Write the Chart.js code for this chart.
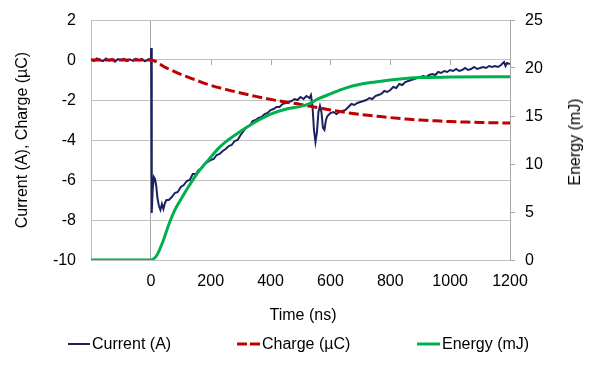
<!DOCTYPE html>
<html>
<head>
<meta charset="utf-8">
<script src="https://cdn.jsdelivr.net/npm/chart.js@4"></script>
<style>
  body { margin: 0; background: #fff; }
  #wrap { position: relative; width: 600px; height: 365px; font-family: 'Liberation Sans', Arial, sans-serif; font-size: 16px; color: #000; }
  canvas { position: absolute; left: 0; top: 0; }
  .lbl { position: absolute; white-space: nowrap; line-height: 18px; }
  .leg { position: absolute; top: 335px; height: 18px; line-height: 18px; display: flex; align-items: center; white-space: nowrap; }
  .leg svg { display: block; margin-right: 2px; }
</style>
</head>
<body>
<div id="wrap">
  <canvas id="chart" width="600" height="365"></canvas>
  <div class="lbl" style="left:303px; top:315px; transform:translate(-50%,-50%)">Time (ns)</div>
  <div class="lbl" style="left:575px; top:142px; transform:translate(-50%,-50%) rotate(-90deg)">Energy (mJ)</div>
  <div class="leg" style="left:68px">
    <svg width="22" height="18"><line x1="0" y1="9" x2="22" y2="9" stroke="#1a2260" stroke-width="2"/></svg>Current (A)
  </div>
  <div class="leg" style="left:237px">
    <svg width="23" height="18"><line x1="0" y1="9" x2="23" y2="9" stroke="#c00000" stroke-width="3" stroke-dasharray="10,3"/></svg>Charge (µC)
  </div>
  <div class="leg" style="left:417px">
    <svg width="23" height="18"><line x1="0" y1="9" x2="23" y2="9" stroke="#00b050" stroke-width="3"/></svg>Energy (mJ)
  </div>
</div>
<script>
// time (ns) and current (A)
const currentT = [
  -200,-190,-180,-170,-160,-150,-140,-130,-120,-110,-100,-90,-80,-70,-60,-50,-40,-30,-20,-10,
  0,1,3,6,10,14,18,22,27,32,37,42,47,52,
  60,70,80,90,100,110,120,130,140,150,160,170,180,190,200,210,220,230,240,250,
  260,270,280,290,300,310,320,330,340,350,360,370,380,390,400,410,420,430,440,450,
  460,470,480,490,500,510,520,530,535,
  540,545,550,555,560,565,570,575,580,585,590,600,610,620,630,640,650,660,670,680,
  690,700,710,720,730,740,750,760,770,780,790,800,810,820,830,840,850,860,870,880,
  890,900,910,920,930,940,950,960,970,980,990,1000,1010,1020,1030,1040,1050,1060,1070,1080,
  1090,1100,1110,1120,1130,1140,1150,1160,1170,1180,1185,1190,1200
];
const currentA = [
  0.05,-0.05,0.08,0.0,-0.06,0.07,-0.03,0.05,-0.08,0.04,0.0,0.06,-0.05,0.03,-0.04,0.07,-0.02,0.05,-0.06,0.02,
  0.05,0.6,-7.65,-6.5,-5.85,-5.95,-6.3,-6.9,-7.3,-7.5,-7.2,-7.45,-7.15,-7.0,
  -7.0,-6.85,-6.65,-6.6,-6.35,-6.25,-6.05,-6.0,-5.7,-5.7,-5.5,-5.4,-5.2,-5.1,-5.0,-4.95,-4.75,-4.7,-4.55,-4.45,
  -4.3,-4.25,-4.05,-4.0,-3.75,-3.55,-3.35,-3.3,-3.05,-3.0,-2.9,-2.85,-2.7,-2.65,-2.5,-2.45,-2.35,-2.35,-2.2,-2.15,
  -2.1,-2.05,-1.95,-2.0,-1.85,-1.95,-1.8,-1.9,-1.75,
  -2.3,-3.5,-4.1,-3.6,-2.6,-2.3,-2.6,-3.4,-3.5,-3.0,-2.8,-2.65,-2.6,-2.7,-2.6,-2.55,-2.5,-2.35,-2.2,-2.25,
  -2.15,-2.1,-2.05,-2.0,-1.9,-1.95,-1.8,-1.75,-1.7,-1.55,-1.6,-1.5,-1.35,-1.4,-1.2,-1.25,-1.1,-1.05,-1.0,-0.95,
  -0.9,-0.85,-0.8,-0.85,-0.75,-0.7,-0.75,-0.6,-0.65,-0.55,-0.6,-0.5,-0.55,-0.45,-0.55,-0.5,-0.4,-0.5,-0.45,-0.35,
  -0.45,-0.4,-0.35,-0.4,-0.3,-0.35,-0.3,-0.35,-0.25,-0.1,-0.3,-0.15,-0.2
];

// charge (µC)
const chargeT = [-200,0,50,100,150,200,250,300,350,400,450,500,550,600,650,700,750,800,850,900,950,1000,1050,1100,1150,1200];
const chargeQ = [0,0,-0.38,-0.72,-1.0,-1.27,-1.47,-1.65,-1.82,-1.97,-2.1,-2.22,-2.36,-2.5,-2.62,-2.72,-2.8,-2.88,-2.95,-3.0,-3.04,-3.08,-3.1,-3.12,-3.14,-3.15];

// energy (mJ)
const energyT = [-200,0,20,40,60,80,100,125,150,175,200,225,250,300,350,400,450,500,530,560,600,650,700,750,800,850,900,1000,1200];
const energyE = [0,0,0.5,1.9,3.7,5.2,6.3,7.6,8.8,9.8,10.7,11.6,12.3,13.4,14.4,15.2,15.7,16.0,16.3,16.8,17.3,17.9,18.3,18.55,18.75,18.9,19.0,19.05,19.1];

const xTicks = [0, 200, 400, 600, 800, 1000, 1200];

const pts = (xs, ys) => xs.map((x, i) => ({ x, y: ys[i] }));

const gridGray = '#c0c0c0';
const axisGray = '#a6a6a6';
const font = { family: "'Liberation Sans', Arial, sans-serif", size: 16 };

// little tick marks along the y=0 crossing line
const crossTicks = {
  id: 'crossTicks',
  beforeDatasetsDraw(chart) {
    const xs = chart.scales.x, ys = chart.scales.y;
    const y0 = ys.getPixelForValue(0);
    const c = chart.ctx;
    c.save();
    c.strokeStyle = axisGray;
    c.lineWidth = 1;
    c.beginPath();
    xTicks.forEach(t => {
      const px = Math.round(xs.getPixelForValue(t)) + 0.5;
      c.moveTo(px, y0);
      c.lineTo(px, y0 + 5);
    });
    c.stroke();
    c.restore();
  }
};

// fixed axis sizes so the plot area sits where the original's does
const fixY = w => s => { s.width = w; s.paddingTop = 0; s.paddingBottom = 0; };

new Chart(document.getElementById('chart'), {
  type: 'line',
  data: {
    datasets: [
      { label: 'Current (A)', data: pts(currentT, currentA), yAxisID: 'y', borderColor: '#1a2260', borderWidth: 2, pointRadius: 0, tension: 0, order: 2 },
      { label: 'Charge (µC)', data: pts(chargeT, chargeQ), yAxisID: 'y', borderColor: '#c00000', borderWidth: 3, borderDash: [10, 4], pointRadius: 0, cubicInterpolationMode: 'monotone', order: 1 },
      { label: 'Energy (mJ)', data: pts(energyT, energyE), yAxisID: 'y2', borderColor: '#00b050', borderWidth: 3, pointRadius: 0, cubicInterpolationMode: 'monotone', order: 0 }
    ]
  },
  options: {
    responsive: false,
    animation: false,
    layout: { padding: { top: 20, left: 0, right: 0, bottom: 0 } },
    plugins: { legend: { display: false }, tooltip: { enabled: false } },
    scales: {
      x: {
        type: 'linear', min: -200, max: 1200,
        afterFit: s => { s.height = 105; s.paddingLeft = 0; s.paddingRight = 0; },
        ticks: { stepSize: 200, color: '#000', font, padding: 12, callback: v => v < 0 ? '' : v },
        grid: { drawTicks: false, color: c => (c.tick && (c.tick.value === 0 || c.tick.value === -200)) ? axisGray : 'rgba(0,0,0,0)' },
        border: { display: true, color: gridGray }
      },
      y: {
        position: 'left', min: -10, max: 2,
        afterFit: fixY(91),
        ticks: { stepSize: 2, color: '#000', font, padding: 15, labelOffset: 1 },
        grid: { drawTicks: false, color: gridGray },
        border: { display: true, color: gridGray },
        title: { display: true, text: 'Current (A), Charge (µC)', color: '#000', font, padding: { top: 13, bottom: 0 } }
      },
      y2: {
        position: 'right', min: 0, max: 25,
        afterFit: fixY(90),
        ticks: { stepSize: 5, color: '#000', font, padding: 10, labelOffset: 1 },
        grid: { drawOnChartArea: false, drawTicks: true, tickLength: 5, color: axisGray },
        border: { display: true, color: axisGray }
      }
    }
  },
  plugins: [crossTicks]
});
</script>
</body>
</html>
